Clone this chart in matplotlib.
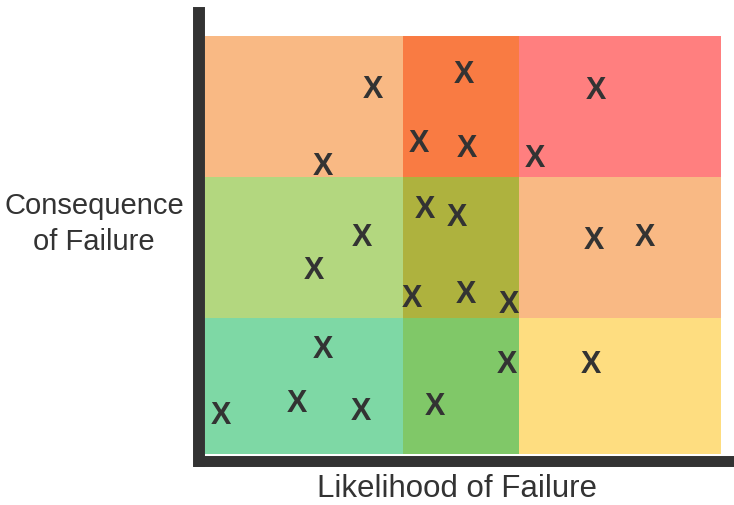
import matplotlib
matplotlib.use('Agg')
import matplotlib.pyplot as plt

# grid edges (0-100 scale on both axes)
colunas = [0, 38.4, 60.9, 100]
linhas = [0, 32.5, 66.3, 100]

# cell colours, row by row from the bottom
cores = [
    ['#7ED8A5', '#80C868', '#FEDD80'],
    ['#B3D77F', '#AEB23E', '#F9B984'],
    ['#F9B984', '#F97B43', '#FF7F7F'],
]

# positions of the X marks
xs = [32.6, 22.9, 50.2, 41.5, 50.8, 64.0, 75.8,
      42.6, 48.8, 30.4, 21.1, 75.4, 85.3, 40.1, 50.6, 58.9,
      22.9, 58.5, 74.8, 3.1, 17.8, 30.2, 44.6]
ys = [87.8, 69.6, 91.4, 74.9, 73.9, 71.3, 87.6,
      59.1, 57.4, 52.6, 44.5, 51.7, 52.6, 38.0, 38.8, 36.4,
      25.8, 22.2, 22.2, 10.0, 12.7, 10.8, 12.0]

tituloX = 'Likelihood of Failure'
tituloY = 'Consequence\nof Failure'

fonte = 'Liberation Sans'
cinza = '#333333'

fig = plt.figure(figsize=(7.34, 5.05), dpi=100)
ax = fig.add_axes([199/734, 44/505, 535/734, 448/505])

for i in range(3):
    for j in range(3):
        ax.bar(colunas[j], linhas[i+1] - linhas[i], width=colunas[j+1] - colunas[j],
               bottom=linhas[i], align='edge', color=cores[i][j], linewidth=0, zorder=1)

for x, y in zip(xs, ys):
    ax.text(x, y, 'X', ha='center', va='center_baseline', fontsize=22, color=cinza,
            family=fonte, fontweight='bold', zorder=3)

ax.set_xlim(-1.16, 102.5)
ax.set_ylim(-1.67, 105.5)
ax.set_xticks([])
ax.set_yticks([])
ax.spines['top'].set_visible(False)
ax.spines['right'].set_visible(False)
ax.spines['left'].set_linewidth(8.6)
ax.spines['bottom'].set_linewidth(7.9)
ax.spines['left'].set_color(cinza)
ax.spines['bottom'].set_color(cinza)

fig.text(94/734, 1 - 224/505, tituloY, ha='center', va='center', fontsize=21,
         color=cinza, family=fonte, linespacing=1.35)
fig.text(457/734, 1 - 489/505, tituloX, ha='center', va='center', fontsize=22.5,
         color=cinza, family=fonte)

fig.savefig('out.png', dpi=100)
